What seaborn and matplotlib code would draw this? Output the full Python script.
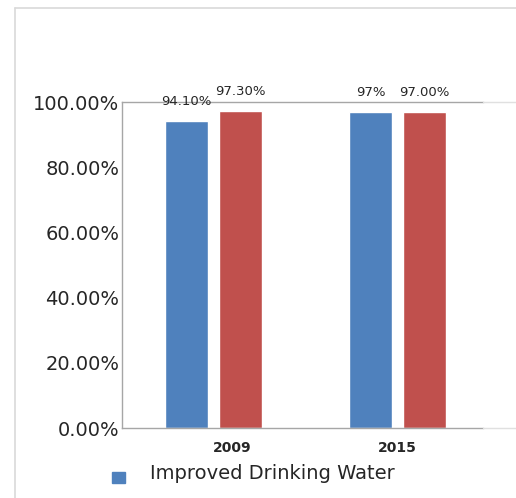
import pandas as pd
import matplotlib.pyplot as plt
import matplotlib.transforms as mtransforms
import seaborn as sns
from matplotlib.lines import Line2D

years = ['2009', '2015']
drinking_water = [0.941, 0.97]
second_series = [0.973, 0.97]
label_drinking = ['94.10%', '97%']
label_second = ['97.30%', '97.00%']
yticks = [0, 0.2, 0.4, 0.6, 0.8, 1.0]
ytick_labels = ['0.00%', '20.00%', '40.00%', '60.00%', '80.00%', '100.00%']

blue = '#4F81BD'
red = '#C0504D'
text_color = '#262626'
line_color = '#a6a6a6'

df = pd.DataFrame({
    'year': years * 2,
    'value': drinking_water + second_series,
    'series': ['Improved Drinking Water'] * 2 + ['Other'] * 2,
})

sns.set_style('white')
fig = plt.figure(figsize=(5.16, 4.98), dpi=100)
ax = fig.add_axes([122 / 516, 1 - 428 / 498, 361 / 516, 326 / 498])

sns.barplot(data=df, x='year', y='value', hue='series', saturation=1,
            palette=[blue, red], width=0.587, gap=0.22, ax=ax, legend=False)

ax.set_ylim(0, 1)
ax.set_xlim(-0.497, 1.465)
ax.set_yticks(yticks)
ax.set_yticklabels(ytick_labels, fontsize=14, color=text_color)
ax.tick_params(axis='x', labelsize=10, colors=text_color, length=0, pad=9)
ax.tick_params(axis='y', length=0, pad=2)
xlabels = ax.get_xticklabels()
for t in xlabels:
    t.set_fontweight('bold')
# the 2009 label sits a little right of its group in the original
xlabels[0].set_transform(xlabels[0].get_transform() +
                         mtransforms.ScaledTranslation(0.19, 0, fig.dpi_scale_trans))
ax.set_xlabel('')
ax.set_ylabel('')

for s in ['top', 'bottom', 'left']:
    ax.spines[s].set_color(line_color)
    ax.spines[s].set_linewidth(1)
ax.spines['right'].set_visible(False)

# data labels
labels = [label_drinking, label_second]
for i, cont in enumerate(ax.containers):
    for j, bar in enumerate(cont):
        x = bar.get_x() + bar.get_width() / 2
        y = bar.get_height()
        ax.annotate(labels[i][j], (x, y), xytext=(0, 9.5),
                    textcoords='offset points', ha='center', va='bottom',
                    fontsize=9.5, color=text_color)

# frame and faint extensions of the axis lines
fig.add_artist(Line2D([15 / 516, 15 / 516], [0, 1 - 8 / 498], color='#d9d9d9', lw=1.2))
fig.add_artist(Line2D([15 / 516, 1], [1 - 8 / 498, 1 - 8 / 498], color='#d9d9d9', lw=1.2))
fig.add_artist(Line2D([483 / 516, 1], [1 - 102 / 498] * 2, color='#e0e0e0', lw=1))
fig.add_artist(Line2D([483 / 516, 1], [1 - 428 / 498] * 2, color='#e0e0e0', lw=1))

# legend entry
fig.patches.append(plt.Rectangle((112 / 516, 1 - 483 / 498), 13 / 516, 11 / 498,
                                 color=blue, transform=fig.transFigure, figure=fig))
fig.text(150 / 516, 1 - 473 / 498, 'Improved Drinking Water', fontsize=14,
         color=text_color, va='center', ha='left')

fig.savefig('out.png', dpi=100)
